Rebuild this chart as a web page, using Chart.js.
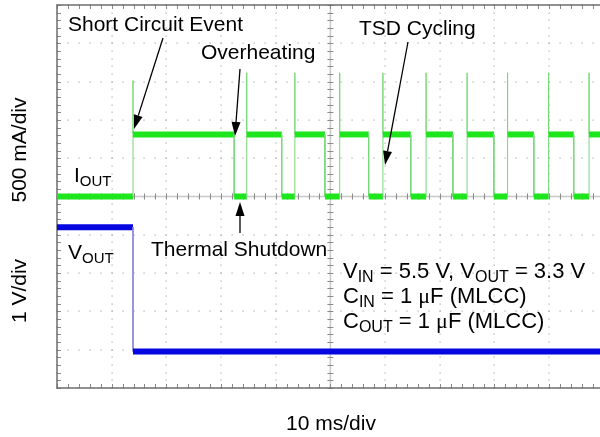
<!DOCTYPE html>
<html><head><meta charset="utf-8">
<script src="https://cdn.jsdelivr.net/npm/chart.js@4.4.1/dist/chart.umd.min.js"></script>
<style>html,body{margin:0;padding:0;background:#fff;overflow:hidden}canvas{display:block}</style>
</head><body><canvas id="c" width="600" height="437"></canvas>
<script>
// ---- data (time in ms, 10 ms/div) ----
const shortCircuitTime = 13.9;                 // ms
const offTimes = [32.4, 41.1, 49.0, 57.0, 64.7, 72.4, 79.9, 87.2, 94.5]; // thermal shutdown instants
const onTimes  = [34.7, 43.5, 51.7, 59.6, 67.5, 75.0, 82.4, 89.9, 97.3]; // restart instants
const firstSpike = 1515;                       // mA
const restartSpikes = [1615, 1615, 1615, 1615, 1615, 1615, 1615, 1615, 1615]; // mA
const limitCurrent = 810;                      // mA
const offCurrent = 0;                          // mA
const vOutBefore = 3.3;                        // V
const vOutAfter = 0.05;                        // V
const endTime = 99.3;                          // ms (right edge of view)

// ---- build traces ----
const iOut = [{x:0,y:offCurrent},{x:shortCircuitTime,y:offCurrent},{x:shortCircuitTime,y:firstSpike},{x:shortCircuitTime,y:limitCurrent}];
offTimes.forEach((t,i)=>{
  iOut.push({x:t,y:limitCurrent},{x:t,y:offCurrent},{x:onTimes[i],y:offCurrent},{x:onTimes[i],y:restartSpikes[i]},{x:onTimes[i],y:limitCurrent});
});
iOut.push({x:endTime,y:limitCurrent});
const vOut = [{x:0,y:vOutBefore},{x:shortCircuitTime,y:vOutBefore},{x:shortCircuitTime,y:vOutAfter},{x:endTime,y:vOutAfter}];

const isVert = c => c.p0.parsed.x === c.p1.parsed.x;

const gridPlugin = {
  id:'scopeGrid',
  beforeDatasetsDraw(chart){
    const ctx=chart.ctx, ca=chart.chartArea, xs=chart.scales.x, ds=chart.scales.d;
    ctx.save();
    ctx.fillStyle='#ababab';
    for(let i=0;i<=10;i++){
      const X=Math.round(xs.getPixelForValue(i*10));
      if(X>ca.right) continue;
      for(let j=0;j<=50;j++){const Y=Math.round(ds.getPixelForValue(j*0.2)); ctx.fillRect(X-0.5,Y-0.5,1.2,1.2);}
    }
    for(let k=0;k<=10;k++){
      const Y=Math.round(ds.getPixelForValue(k));
      for(let j=0;j<=50;j++){const X=Math.round(xs.getPixelForValue(j*2)); if(X>ca.right) continue; ctx.fillRect(X-0.5,Y-0.5,1.2,1.2);}
    }
    const cy=ds.getPixelForValue(5), cx=xs.getPixelForValue(50);
    ctx.strokeStyle='#c8c8c8'; ctx.lineWidth=1.5;
    ctx.beginPath(); ctx.moveTo(ca.left,cy); ctx.lineTo(ca.right,cy); ctx.stroke();
    ctx.beginPath(); ctx.moveTo(cx,ca.top); ctx.lineTo(cx,ca.bottom); ctx.stroke();
    ctx.strokeStyle='#8a8a8a'; ctx.lineWidth=1;
    for(let j=0;j<=50;j++){
      const X=Math.round(xs.getPixelForValue(j*2))+0.5; if(X>ca.right) continue;
      ctx.beginPath(); ctx.moveTo(X,cy-3); ctx.lineTo(X,cy+3); ctx.stroke();
      ctx.beginPath(); ctx.moveTo(X,ca.top); ctx.lineTo(X,ca.top+4); ctx.stroke();
      ctx.beginPath(); ctx.moveTo(X,ca.bottom); ctx.lineTo(X,ca.bottom-4); ctx.stroke();
    }
    for(let j=0;j<=50;j++){
      const Y=Math.round(ds.getPixelForValue(j*0.2))+0.5;
      ctx.beginPath(); ctx.moveTo(cx-3,Y); ctx.lineTo(cx+3,Y); ctx.stroke();
      ctx.beginPath(); ctx.moveTo(ca.left,Y); ctx.lineTo(ca.left+4,Y); ctx.stroke();
    }
    ctx.strokeStyle='#6e6e6e'; ctx.lineWidth=1.5;
    ctx.beginPath(); ctx.moveTo(ca.right+2,ca.top); ctx.lineTo(ca.left,ca.top); ctx.lineTo(ca.left,ca.bottom); ctx.lineTo(ca.right+2,ca.bottom); ctx.stroke();
    ctx.restore();
  }
};

function arrow(ctx,x1,y1,x2,y2){
  const a=Math.atan2(y2-y1,x2-x1), L=14, W=4.5;
  const bx=x2-L*Math.cos(a), by=y2-L*Math.sin(a);
  ctx.beginPath(); ctx.moveTo(x1,y1); ctx.lineTo(bx,by); ctx.stroke();
  ctx.beginPath(); ctx.moveTo(x2,y2);
  ctx.lineTo(bx+W*Math.sin(a),by-W*Math.cos(a));
  ctx.lineTo(bx-W*Math.sin(a),by+W*Math.cos(a));
  ctx.closePath(); ctx.fill();
}
const MAIN='21px "Liberation Sans", Arial, sans-serif';
function runs(ctx,x,y,parts,size,subSize){
  for(const p of parts){
    const [t,kind]=typeof p==='string'?[p,'n']:p;
    ctx.font= kind==='s'?`${subSize}px "Liberation Sans", Arial, sans-serif`:(kind==='m'?`${size}px "Liberation Serif", serif`:`${size}px "Liberation Sans", Arial, sans-serif`);
    const dy= kind==='s'?4:0;
    ctx.fillText(t,x,y+dy);
    x+=ctx.measureText(t).width;
  }
}

const textPlugin = {
  id:'annot',
  afterDatasetsDraw(chart){
    const ctx=chart.ctx;
    ctx.save();
    ctx.fillStyle='#000'; ctx.strokeStyle='#000'; ctx.lineWidth=1.3;
    ctx.textBaseline='alphabetic'; ctx.textAlign='left';
    ctx.font=MAIN;
    ctx.fillText('Short Circuit Event',68,31);
    ctx.fillText('Overheating',201,59);
    ctx.fillText('TSD Cycling',359,35);
    ctx.fillText('Thermal Shutdown',151,256);
    runs(ctx,74,182,['I',['OUT','s']],21,15);
    runs(ctx,68,259,['V',['OUT','s']],21,15);
    runs(ctx,343,278,['V',['IN','s'],' = 5.5 V, V',['OUT','s'],' = 3.3 V'],22,16);
    runs(ctx,343,303,['C',['IN','s'],' = 1 ',['\u03bc','m'],'F (MLCC)'],22,16);
    runs(ctx,343,328,['C',['OUT','s'],' = 1 ',['\u03bc','m'],'F (MLCC)'],22,16);
    ctx.font=MAIN; ctx.textAlign='center';
    ctx.fillText('10 ms/div',331,430);
    ctx.save(); ctx.translate(26,150); ctx.rotate(-Math.PI/2); ctx.fillText('500 mA/div',0,0); ctx.restore();
    ctx.save(); ctx.translate(26,291); ctx.rotate(-Math.PI/2); ctx.fillText('1 V/div',0,0); ctx.restore();
    arrow(ctx,163,38,134,129);
    arrow(ctx,240,69,235,136);
    arrow(ctx,240,233,240,202);
    arrow(ctx,408,42,385,165);
    ctx.restore();
  }
};

new Chart(document.getElementById('c'),{
  type:'line',
  data:{datasets:[
    {label:'VOUT',data:vOut,yAxisID:'yV',borderColor:'#0606e0',borderWidth:6,pointRadius:0,borderCapStyle:'butt',tension:0,
     segment:{borderWidth:c=>isVert(c)?1:6,borderColor:c=>isVert(c)?'#8888d8':'#0606e0'}},
    {label:'IOUT',data:iOut,yAxisID:'yI',borderColor:'#1de61d',borderWidth:6,pointRadius:0,borderCapStyle:'butt',tension:0,
     segment:{borderWidth:c=>isVert(c)?1:6,borderColor:c=>isVert(c)?'#78d878':'#1de61d'}}
  ]},
  options:{
    responsive:false,animation:false,
    layout:{padding:{left:57,top:5,right:0,bottom:49}},
    plugins:{legend:{display:false},tooltip:{enabled:false}},
    scales:{
      x:{type:'linear',min:0,max:endTime,display:false},
      yI:{type:'linear',min:-2500,max:2500,display:false},
      yV:{type:'linear',min:-0.9,max:9.1,display:false},
      d:{type:'linear',axis:'y',min:0,max:10,display:false}
    }
  },
  plugins:[gridPlugin,textPlugin]
});
</script></body></html>
